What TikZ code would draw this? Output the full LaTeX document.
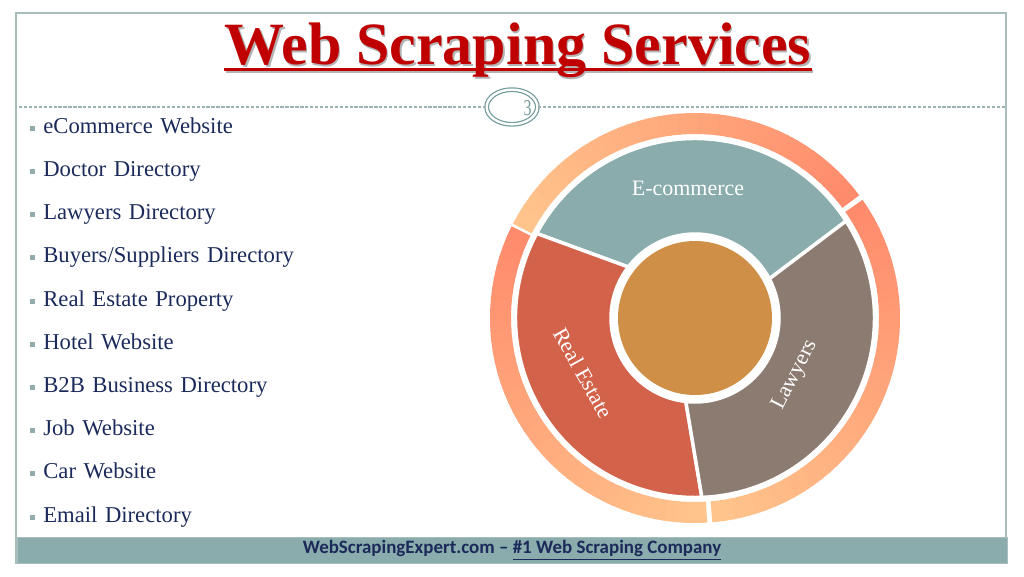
\documentclass[tikz,border=0pt]{standalone}
\usepackage{fontspec}
\setmainfont{Liberation Serif}
\newfontfamily\footfont[Ligatures=TeX]{Carlito}
\usepackage{tikz}
\usetikzlibrary{positioning,calc,shapes.geometric}

\definecolor{titlered}{HTML}{C00000}
\definecolor{shadegrey}{HTML}{B4B4B4}
\definecolor{listblue}{HTML}{1B2A5A}
\definecolor{bulletcol}{HTML}{93ABAB}
\definecolor{framecol}{HTML}{A9BDBD}
\definecolor{rulecol}{HTML}{9DB3B3}
\definecolor{markcol}{HTML}{6F9999}
\definecolor{teal}{HTML}{8AACAC}
\definecolor{estate}{HTML}{D2624A}
\definecolor{lawyer}{HTML}{8C7B70}
\definecolor{core}{HTML}{CF8F47}
\definecolor{ringdark}{HTML}{FF8A6C}
\definecolor{ringlight}{HTML}{FFC58C}

\newcommand{\sqbullet}{\textcolor{bulletcol}{\rule[1.9pt]{3.8pt}{3.8pt}}\hspace{6pt}}

\begin{document}
\begin{tikzpicture}[x=0.75pt,y=0.75pt,node distance=15pt]
            \tikzstyle{item}=[inner sep=0pt,text width=220pt,align=left,text height=13pt,text depth=4pt,
                              font=\fontsize{17}{20}\selectfont,text=listblue]
            \tikzstyle{title}=[inner sep=0pt,anchor=base,font=\fontsize{45}{50}\selectfont\bfseries]
            \tikzstyle{seglabel}=[text=white,font=\fontsize{16.5}{19}\selectfont]
            \tikzstyle{segment}=[draw=white,line width=2.6pt,line join=round]
            \useasboundingbox (0,0) rectangle (1024,576);

            % frame and footer
            \draw[framecol,line width=1.1pt] (16,13) rectangle (1006,563);
            \node[fill=teal,draw=framecol,minimum width=742.5pt,minimum height=19.5pt,inner sep=0pt,
                  font=\footfont\fontsize{14.2}{16}\selectfont\bfseries,text=listblue] (foot) at (512,26)
                  {WebScrapingExpert.com – \underline{\#1 Web Scraping Company}};

            % title
            \node[title,text=shadegrey] (titleshade) at (519.5,509.5) {Web Scraping Services};
            \fill[shadegrey] ($(titleshade.base west)+(0,-3.5)$) rectangle ($(titleshade.base east)+(0,-6.5)$);
            \node[title,text=titlered] (title) at (518,511) {Web Scraping Services};
            \fill[titlered] ($(title.base west)+(0,-3.5)$) rectangle ($(title.base east)+(0,-6.5)$);

            % page mark and rule
            \node[ellipse,draw=markcol,double=white,double distance=1.8pt,line width=0.9pt,
                  minimum width=38pt,minimum height=26pt,inner sep=0pt] (pagemark) at (512,469) {};
            \node[text=markcol,inner sep=0pt,xscale=0.7,font=\fontsize{17}{17}\selectfont] (pagenum)
                  at (527.5,468) {3};
            \draw[rulecol,line width=0.8pt,dash pattern=on 2.5pt off 1.2pt] (pagemark.west) -- (16,469);
            \draw[rulecol,line width=0.8pt,dash pattern=on 2.5pt off 1.2pt] (pagemark.east) -- (1006,469);

            % list
            \node[item,anchor=base west] (it1) at (30,442.7) {\sqbullet eCommerce Website};
            \node[item,below=of it1] (it2) {\sqbullet Doctor Directory};
            \node[item,below=of it2] (it3) {\sqbullet Lawyers Directory};
            \node[item,below=of it3] (it4) {\sqbullet Buyers/Suppliers Directory};
            \node[item,below=of it4] (it5) {\sqbullet Real Estate Property};
            \node[item,below=of it5] (it6) {\sqbullet Hotel Website};
            \node[item,below=of it6] (it7) {\sqbullet B2B Business Directory};
            \node[item,below=of it7] (it8) {\sqbullet Job Website};
            \node[item,below=of it8] (it9) {\sqbullet Car Website};
            \node[item,below=of it9] (it10) {\sqbullet Email Directory};

            % ring chart
            \coordinate (ctr) at (695,258);
            \begin{scope}[shift={(ctr)}]
                \foreach \sa/\ea/\ca/\cb in {152.6/37.2/ringlight/ringdark, 35.2/-84.7/ringdark/ringlight,
                                             -86.6/-206.1/ringlight/ringdark}{
                    \foreach \i in {1,...,40}{
                        \pgfmathsetmacro\angA{\sa+(\ea-\sa)*(\i-1)/40}
                        \pgfmathsetmacro\angB{\sa+(\ea-\sa)*(\i+0.15)/40}
                        \pgfmathtruncatemacro\mixp{100*(\i-0.5)/40}
                        \fill[\cb!\mixp!\ca] (\angA:184) arc[start angle=\angA,end angle=\angB,radius=184]
                            -- (\angB:205) arc[start angle=\angB,end angle=\angA,radius=205] -- cycle;
                    }
                }
                \filldraw[segment,fill=teal] (32.7:179.5) arc[start angle=32.7,end angle=151.9,radius=179.5]
                    -- (142.6:84) arc[start angle=142.6,end angle=27.8,radius=84] -- cycle;
                \filldraw[segment,fill=estate] (151.9:179.5) arc[start angle=151.9,end angle=272.2,radius=179.5]
                    -- (263.7:84) arc[start angle=263.7,end angle=142.6,radius=84] -- cycle;
                \filldraw[segment,fill=lawyer] (272.2:179.5) arc[start angle=272.2,end angle=392.7,radius=179.5]
                    -- (387.8:84) arc[start angle=387.8,end angle=263.7,radius=84] -- cycle;
                \fill[core] (0,0) circle[radius=77];
            \end{scope}
            \node[seglabel] (ecl) at (688,388) {E-commerce};
            \node[seglabel,rotate=-61] (rel) at (583,203) {Real Estate};
            \node[seglabel,rotate=63] (lawl) at (795,201) {Lawyers};
        \end{tikzpicture}
\end{document}
